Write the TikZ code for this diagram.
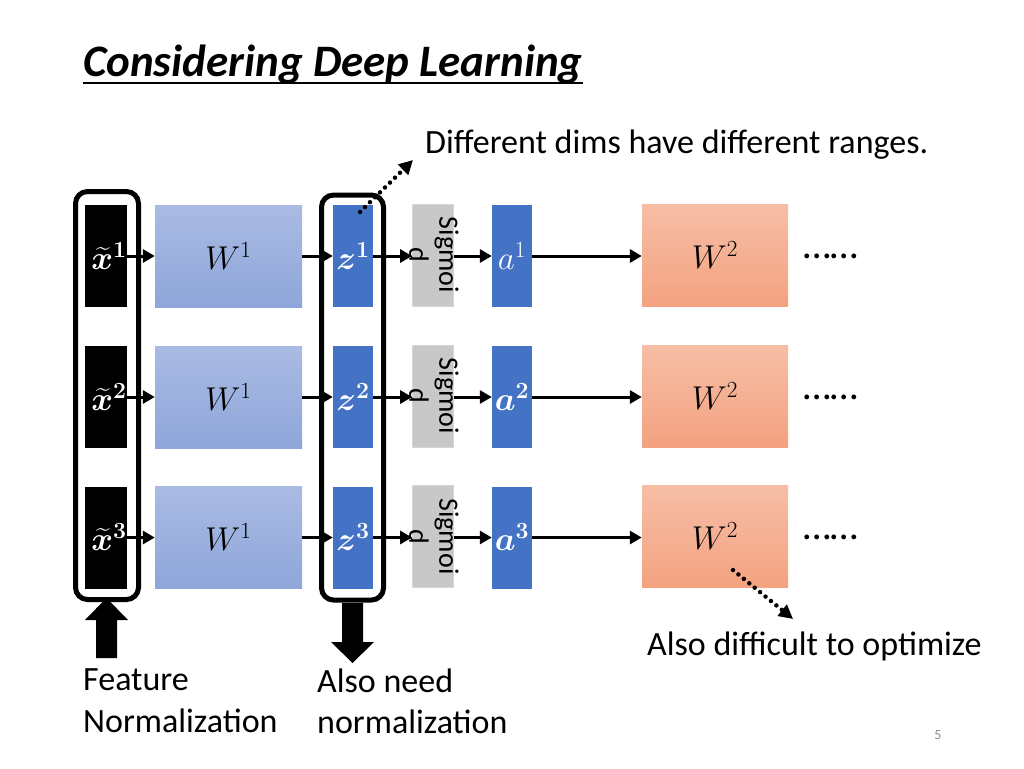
\RequirePackage{fix-cm}
\documentclass[tikz,border=0pt]{standalone}
\usepackage{amsmath,bm}
\usepackage{fontspec}
\setmainfont{Carlito}
\usetikzlibrary{arrows.meta}
\definecolor{wonetop}{HTML}{AABBE3}
\definecolor{wonebot}{HTML}{8EA6DA}
\definecolor{zblue}{HTML}{4472C4}
\definecolor{sgray}{HTML}{C8C8C8}
\definecolor{sgrayb}{HTML}{D6D6D6}
\definecolor{wtwotop}{HTML}{F6BEA6}
\definecolor{wtwobot}{HTML}{F4A280}
\definecolor{pagegray}{HTML}{8C8C8C}
\tikzset{
  mathfont/.style={font=\fontsize{33}{38}\selectfont},
  xbox/.style={fill=black, minimum width=42pt, minimum height=102pt, inner sep=0pt},
  wone/.style={top color=wonetop, bottom color=wonebot, minimum width=147pt, minimum height=102pt, inner sep=0pt, mathfont},
  bluebox/.style={fill=zblue, minimum width=40pt, minimum height=102pt, inner sep=0pt, text=white, mathfont},
  boxlabel/.style={inner sep=0pt, text=white, mathfont},
  sigbox/.style={fill=sgray, draw=sgrayb, line width=0.8pt, minimum width=41pt, minimum height=102pt, inner sep=0pt},
  sigtext/.style={rotate=-90, align=center, inner sep=0pt, font=\fontsize{28}{30}\selectfont},
  wtwo/.style={top color=wtwotop, bottom color=wtwobot, minimum width=146pt, minimum height=102pt, inner sep=0pt, mathfont},
  conn/.style={line width=3pt, -{Triangle[length=12pt,width=13pt]}},
  group/.style={draw=black, line width=5pt, rounded corners=12pt, inner sep=0pt},
  dotarrow/.style={line width=4.5pt, dash pattern=on 0pt off 7pt, line cap=round, -{Triangle[length=14pt,width=14pt]}},
  lbl/.style={inner sep=0pt, font=\fontsize{34}{42}\selectfont, align=left},
  dotstext/.style={inner sep=0pt, font=\fontsize{40}{44}\selectfont}
}
\begin{document}
\begin{tikzpicture}[x=1pt,y=-1pt]
\useasboundingbox[fill=white] (0,0) rectangle (1024,768);

% title
\node[anchor=base west, inner sep=0pt, font=\fontsize{45}{52}\selectfont\bfseries\itshape] (title) at (83,76) {Considering Deep Learning};
\draw[line width=2.8pt] ([yshift=-7pt]title.base west) -- ([yshift=-7pt]title.base east);

% group frames
\node[group, minimum width=63pt, minimum height=408pt] (gone) at (107,395.5) {};
\node[group, minimum width=62pt, minimum height=405pt] (gtwo) at (352.5,397.5) {};

% rows
\foreach \r/\yy/\xl/\zl/\al in {1/256/{\widetilde{\bm{x}}^{\bm{1}}}/{\bm{z}^{\bm{1}}}/{a^{1}},
                                2/397/{\widetilde{\bm{x}}^{\bm{2}}}/{\bm{z}^{\bm{2}}}/{\bm{a}^{\bm{2}}},
                                3/537.5/{\widetilde{\bm{x}}^{\bm{3}}}/{\bm{z}^{\bm{3}}}/{\bm{a}^{\bm{3}}}}{
  \node[xbox] (x\r) at (106,\yy) {};
  \node[boxlabel] (xl\r) at (109,\yy) {$\xl$};
  \node[wone] (wa\r) at (228.5,\yy) {$W^{1}$};
  \node[bluebox] (z\r) at (353,\yy) {$\zl$};
  \node[sigbox] (s\r) at (433,\yy-1) {};
  \node[sigtext] (st\r) at (434,\yy-1) {Sigmoi\\d};
  \node[bluebox] (a\r) at (512,\yy) {$\al$};
  \node[wtwo] (wb\r) at (715,\yy-1) {$W^{2}$};
  \node[dotstext] (d\r) at (831,\yy) {……};
  \draw[conn] (x\r.east) -- (wa\r.west);
  \draw[conn] (wa\r.east) -- (z\r.west);
  \draw[conn] (z\r.east) -- (s\r.west |- z\r.east);
  \draw[conn] (s\r.east |- a\r.west) -- (a\r.west);
  \draw[conn] (a\r.east) -- (wb\r.west |- a\r.east);
}

% block arrows
\fill[black] (96,658) -- (96,620) -- (85,620) -- (106.5,598) -- (128,620) -- (117,620) -- (117,658) -- cycle;
\fill[black] (342,603) -- (342,642) -- (331,642) -- (352.5,663) -- (374,642) -- (363,642) -- (363,603) -- cycle;

% annotations
\node[lbl, anchor=base west] (diff) at (425,153) {Different dims have different ranges.};
\coordinate (dfrom) at (360,212);
\coordinate (dto) at (413,160);
\draw[dotarrow] (dfrom) -- (dto);

\node[lbl, anchor=base west] (opt) at (647,655) {Also difficult to optimize};
\coordinate (ofrom) at (733,570);
\coordinate (oto) at (793,619);
\draw[dotarrow] (ofrom) -- (oto);

\node[lbl, anchor=base west] (feat) at (83,690) {Feature};
\node[lbl, anchor=base west] (featb) at (83,732) {Normalization};
\node[lbl, anchor=base west] (need) at (317,692) {Also need};
\node[lbl, anchor=base west] (needb) at (317,733) {normalization};

\node[inner sep=0pt, text=pagegray, font=\fontsize{14}{16}\selectfont] (page) at (938,735) {5};
\end{tikzpicture}
\end{document}
